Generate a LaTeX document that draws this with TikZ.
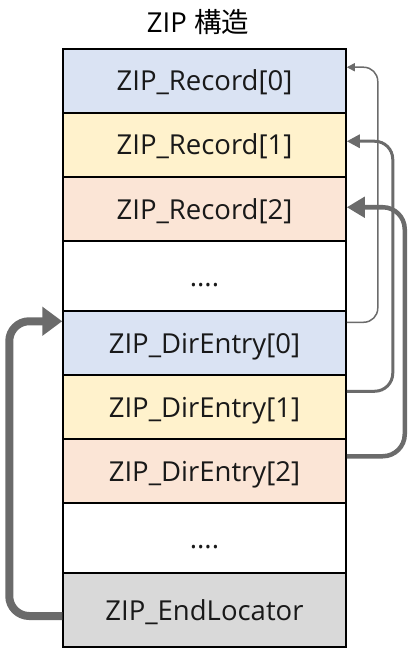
\documentclass[tikz,border=0pt]{standalone}
\usepackage{fontspec}
\setmainfont{Open Sans}
\newfontfamily\cjk{Noto Sans CJK JP}
\usetikzlibrary{arrows.meta,calc}
\definecolor{cblue}{HTML}{DAE3F3}
\definecolor{cyellow}{HTML}{FFF2CC}
\definecolor{corange}{HTML}{FBE5D6}
\definecolor{cgray}{HTML}{D9D9D9}
\definecolor{agray}{HTML}{6B6B6B}
\begin{document}
\begin{tikzpicture}[x=1pt,y=-1pt,
  rowbox/.style={draw=black,line width=1.5pt,minimum width=283pt,minimum height=64pt,inner sep=0pt,font=\fontsize{27.5}{30}\selectfont,text=black!90,text height=20pt,text depth=0pt},
  conn/.style={draw=agray,rounded corners=14pt},
]
\useasboundingbox (0,0) rectangle (414,652);
\node[font=\fontsize{27.5}{30}\selectfont] (title) at (198,22) {ZIP {\cjk 構造}};
\node[rowbox,fill=cblue]    (r0) at (204.5,81)  {ZIP\_Record[0]};
\node[rowbox,fill=cyellow]  (r1) at (204.5,145) {ZIP\_Record[1]};
\node[rowbox,fill=corange]  (r2) at (204.5,209) {ZIP\_Record[2]};
\node[rowbox,fill=white,minimum height=70pt] (g1) at (204.5,276) {....};
\node[rowbox,fill=cblue]    (d0) at (204.5,343) {ZIP\_DirEntry[0]};
\node[rowbox,fill=cyellow]  (d1) at (204.5,407) {ZIP\_DirEntry[1]};
\node[rowbox,fill=corange]  (d2) at (204.5,471) {ZIP\_DirEntry[2]};
\node[rowbox,fill=white,minimum height=70pt] (g2) at (204.5,538) {....};
\node[rowbox,fill=cgray,minimum height=74pt] (el) at (204.5,610) {ZIP\_EndLocator};
% right-side connectors
\draw[conn,line width=1.5pt,-{Triangle[length=8pt,width=8pt]}]
  ([yshift=-12pt]d0.north east) -- ++(31,0) |- ([yshift=-19pt]r0.north east);
\draw[conn,line width=3pt,-{Triangle[length=13pt,width=13pt]},rounded corners=18pt]
  ([yshift=-17pt]d1.north east) -- ++(46,0) |- ([yshift=-29pt]r1.north east);
\draw[conn,line width=4.5pt,-{Triangle[length=18pt,width=20pt]},rounded corners=22pt]
  ([yshift=-18pt]d2.north east) -- ++(58,0) |- ([yshift=-31pt]r2.north east);
% left connector
\draw[conn,line width=8pt,-{Triangle[length=20pt,width=28pt]},rounded corners=20pt]
  ([yshift=-6pt]el.west) -- ++(-53,0) |- ([yshift=-11pt]d0.north west);
\end{tikzpicture}
\end{document}
